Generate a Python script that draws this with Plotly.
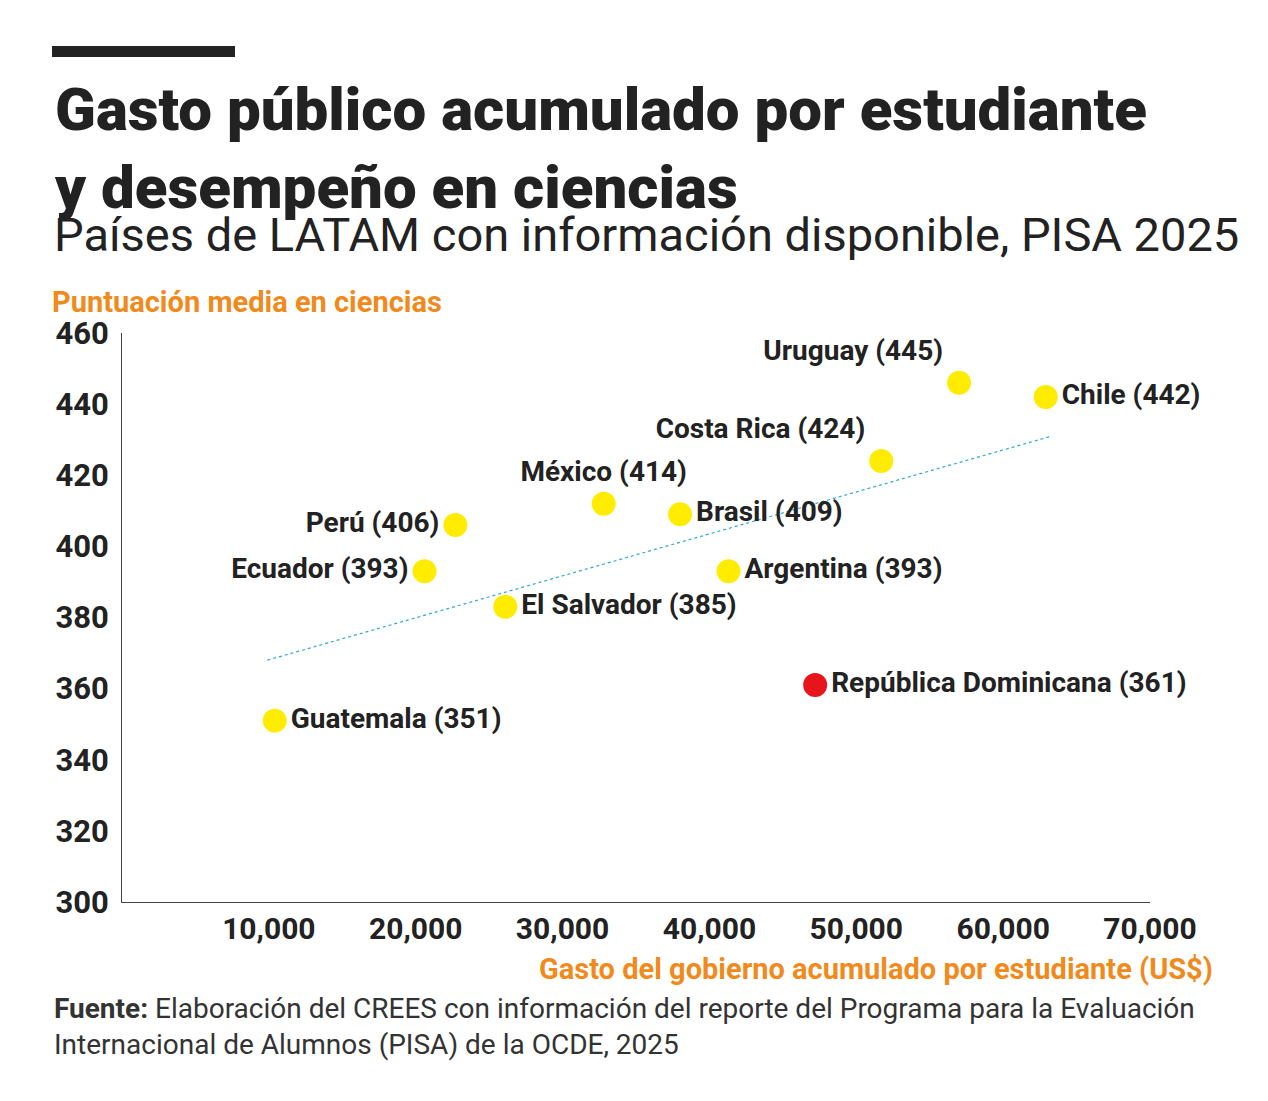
import plotly.graph_objects as go

paises = ["Guatemala", "Ecuador", "Perú", "El Salvador", "México", "Brasil",
          "Argentina", "República Dominicana", "Costa Rica", "Uruguay", "Chile"]
gasto = [10400, 20600, 22700, 26100, 32800, 38000, 41300, 47200, 51700, 57000, 62900]
puntaje = [351, 393, 406, 383, 412, 409, 393, 361, 424, 446, 442]
etiqueta = [351, 393, 406, 385, 414, 409, 393, 361, 424, 445, 442]
posicion = ["middle right", "middle left", "middle left", "middle right", "top center",
            "middle right", "middle right", "middle right", "top left", "top left", "middle right"]
colores = ["#ffec00"] * 7 + ["#e8141b"] + ["#ffec00"] * 3
tend_x = [9900, 63300]
tend_y = [368, 431]

W, H = 1268, 1101
OFF = 8  # page margin of the browser
L, R, T, B = 114, 126, 325, 207
ph = H - T - B
def py(p):
    return (H - B - (p - OFF)) / ph
def px(p):
    return (p - OFF - L) / (W - L - R)

fig = go.Figure()
fig.add_trace(go.Scatter(x=tend_x, y=tend_y, mode="lines",
                         line=dict(color="#2aa8d8", width=1.2, dash="dot"), hoverinfo="skip"))
fig.add_trace(go.Scatter(
    x=gasto, y=puntaje, mode="markers+text", cliponaxis=False,
    marker=dict(size=24, color=colores),
    text=[f"{p} ({e})" for p, e in zip(paises, etiqueta)],
    textposition=posicion,
    textfont=dict(family="Roboto", size=28, color="#222", weight=700),
))

fig.update_layout(
    width=W, height=H, margin=dict(l=L, r=R, t=T, b=B),
    plot_bgcolor="white", paper_bgcolor="white", showlegend=False,
    font=dict(family="Roboto", color="#222"),
    xaxis=dict(range=[0, 70000], tickvals=[10000, 20000, 30000, 40000, 50000, 60000, 70000],
               tickformat=",", showgrid=False, zeroline=False, showline=True,
               linecolor="#444", linewidth=1, ticks="",
               tickfont=dict(size=30, weight=700, color="#222")),
    yaxis=dict(range=[300, 460], dtick=20, showgrid=False, zeroline=False, showline=True,
               linecolor="#444", linewidth=1, ticks="", ticklabelstandoff=6,
               tickfont=dict(size=31, weight=700, color="#222")),
)

ann = [
    ("Gasto público acumulado por estudiante<br>y desempeño en ciencias", 52, 72, 60, "#222", 900, "Roboto"),
    ("Países de LATAM con información disponible, PISA 2025", 52, 205, 47, "#222", 400, "Roboto"),
    ("Puntuación media en ciencias", 50, 283, 29, "#f08a1c", 700, "Roboto"),
]
for txt, x, y, s, c, w, fam in ann:
    fig.add_annotation(text=txt, x=px(x), y=py(y), xref="paper", yref="paper",
                       xanchor="left", yanchor="top", showarrow=False, align="left",
                       font=dict(size=s, color=c, weight=w, family=fam))
fig.add_annotation(text="Gasto del gobierno acumulado por estudiante (US$)", x=px(1215), y=py(950),
                   xref="paper", yref="paper", xanchor="right", yanchor="top", showarrow=False,
                   font=dict(size=29, color="#f08a1c", weight=700))
fig.add_annotation(
    text="<b>Fuente:</b> Elaboración del CREES con información del reporte del Programa para la Evaluación<br>Internacional de Alumnos (PISA) de la OCDE, 2025",
    x=px(52), y=py(990), xref="paper", yref="paper", xanchor="left", yanchor="top",
    showarrow=False, align="left", font=dict(size=28, color="#333"))
fig.add_shape(type="rect", xref="paper", yref="paper", x0=px(52), x1=px(235), y0=py(46), y1=py(57),
              fillcolor="#222", line_width=0)

fig.write_html("out.html")
